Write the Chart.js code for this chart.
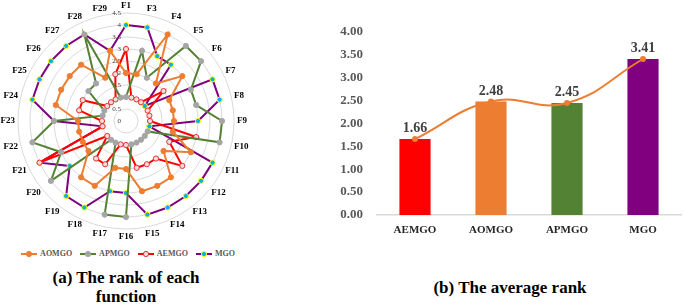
<!DOCTYPE html>
<html><head><meta charset="utf-8">
<script src="https://cdn.jsdelivr.net/npm/chart.js@4.4.0/dist/chart.umd.min.js"></script>
<style>
html,body{margin:0;padding:0;background:#fff;}
body{width:685px;height:304px;position:relative;overflow:hidden;font-family:"Liberation Serif","Times New Roman",serif;}
#radar{position:absolute;left:0;top:0;}
#bar{position:absolute;left:330px;top:0;}
.cap{position:absolute;font-weight:bold;font-size:17px;color:#000;text-align:center;line-height:19px;}
#legend{position:absolute;left:2px;top:249px;width:252px;display:flex;justify-content:center;gap:8px;font:bold 8px "Liberation Serif",serif;color:#595959;}
#legend span.it{display:flex;align-items:center;gap:3px;}
</style></head><body>
<canvas id="radar" width="252" height="246"></canvas>
<div id="legend"></div>
<canvas id="bar" width="355" height="240"></canvas>
<div class="cap" style="left:26px;top:268px;width:200px;">(a) The rank of each<br>function</div>
<div class="cap" style="left:410px;top:278px;width:200px;">(b) The average rank</div>
<script>
// ---------- data ----------
const functions = ["F1","F3","F4","F5","F6","F7","F8","F9","F10","F11","F12","F13","F14","F15","F16","F17","F18","F19","F20","F21","F22","F23","F24","F25","F26","F27","F28","F29"];
const rankAOMGO = [2,2,4,2,3,2,2,2,2,3,2,3,3,3,2,2,3,3,2,2,2,2,3,3,3,3,2,3];
const rankAPMGO = [1,3,2,4,4,3,3,4,4,1,1,1,1,1,4,4,1,1,4,3,4,3,1,1,2,2,4,1];
const rankAEMGO = [3,1,1,1,2,1,1,1,3,2,3,2,2,2,1,1,2,2,1,4,1,1,2,2,1,1,1,2];
const rankMGO   = [4,4,3,3,1,4,4,3,1,4,4,4,4,4,3,3,4,4,3,4,1,3,4,4,4,4,4,3];
const radarTicks = [0,0.5,1,1.5,2,2.5,3,3.5,4,4.5];

const algorithms = ["AEMGO","AOMGO","APMGO","MGO"];
const averageRank = [1.66,2.48,2.45,3.41];
const avgTicks = [0,0.5,1,1.5,2,2.5,3,3.5,4];

const SERIF = "'Liberation Serif','Times New Roman',serif";

const styles = [
  {label:"AOMGO", data:rankAOMGO, line:"#ED7D31", fill:"#ED7D31", stroke:"#ED7D31"},
  {label:"APMGO", data:rankAPMGO, line:"#548235", fill:"#A5A5A5", stroke:"#A5A5A5"},
  {label:"AEMGO", data:rankAEMGO, line:"#FF0000", fill:"#F2DCDB", stroke:"#E03030"},
  {label:"MGO",   data:rankMGO,   line:"#7F007F", fill:"#00B0F0", stroke:"#FFFF00"}
];

// HTML legend (line + marker)
const lg = document.getElementById('legend');
styles.forEach(s=>{
  const it = document.createElement('span'); it.className='it';
  it.innerHTML = '<svg width="16" height="8"><line x1="0" y1="4" x2="16" y2="4" stroke="'+s.line+'" stroke-width="2"/>'+
    '<circle cx="8" cy="4" r="2.6" fill="'+s.fill+'" stroke="'+s.stroke+'" stroke-width="1"/></svg>';
  const t = document.createElement('span'); t.textContent = s.label; it.appendChild(t);
  lg.appendChild(it);
});

const radarText = {
  id:'radarText',
  beforeDatasetsDraw(chart){
    const s = chart.scales.r, ctx = chart.ctx;
    ctx.save();
    ctx.font = '7px '+SERIF; ctx.fillStyle = '#404040';
    ctx.textAlign = 'right'; ctx.textBaseline = 'middle';
    radarTicks.forEach(v=>{
      const p = s.getPointPositionForValue(0, v);
      ctx.fillText(String(v), p.x - 5, p.y);
    });
    ctx.font = 'bold 9px '+SERIF; ctx.fillStyle = '#000';
    ctx.textAlign = 'center'; ctx.textBaseline = 'middle';
    functions.forEach((lab,i)=>{
      const a = s.getIndexAngle(i);
      const w = ctx.measureText(lab).width, h = 9;
      const p = s.getPointPosition(i, s.drawingArea + 3);
      ctx.fillText(lab, p.x + Math.sin(a)*w/2, p.y - Math.cos(a)*h/2);
    });
    ctx.restore();
  }
};

new Chart(document.getElementById('radar'), {
  type:'radar',
  data:{
    labels:functions,
    datasets: styles.map(s=>({
      label:s.label, data:s.data, borderColor:s.line, backgroundColor:s.line,
      borderWidth:2, fill:false, pointRadius:2.6, pointBorderWidth:1,
      pointBackgroundColor:s.fill, pointBorderColor:s.stroke, pointHoverRadius:2.6
    }))
  },
  options:{
    responsive:false, animation:false,
    layout:{padding:{top:12,left:18,right:18,bottom:16}},
    plugins:{legend:{display:false}, tooltip:{enabled:false}},
    scales:{r:{
      min:0, max:4.5,
      afterBuildTicks(scale){ scale.ticks = radarTicks.map(v=>({value:v})); },
      ticks:{display:false},
      grid:{circular:true, color:'#D9D9D9', lineWidth:1},
      angleLines:{display:false},
      pointLabels:{display:false}
    }}
  },
  plugins:[radarText]
});

// ---------- bar + line ----------
const valueLabels = {
  id:'valueLabels',
  afterDatasetsDraw(chart){
    const meta = chart.getDatasetMeta(1); const ctx = chart.ctx;
    ctx.save(); ctx.font = "bold 14px "+SERIF; ctx.fillStyle = "#404040";
    ctx.textAlign = 'center'; ctx.textBaseline = 'alphabetic';
    meta.data.forEach((el,i)=>{
      ctx.fillText(averageRank[i].toFixed(2), el.x, el.y - 7);
    });
    ctx.restore();
  }
};

new Chart(document.getElementById('bar'), {
  data:{
    labels:algorithms,
    datasets:[
      {type:'line', data:averageRank, borderColor:'#ED7D31', backgroundColor:'#ED7D31',
       borderWidth:2, tension:0.45, pointRadius:3, pointBorderWidth:0, order:0},
      {type:'bar', data:averageRank, backgroundColor:['#FF0000','#ED7D31','#548235','#800080'],
       borderWidth:0, categoryPercentage:1, barPercentage:0.41, order:1}
    ]
  },
  options:{
    responsive:false, animation:false,
    layout:{padding:{top:32,right:0,left:0,bottom:0}},
    plugins:{legend:{display:false}, tooltip:{enabled:false}},
    scales:{
      y:{min:0,max:4,
        afterBuildTicks(scale){ scale.ticks = avgTicks.map(v=>({value:v})); },
        afterFit(scale){ scale.width = 47; },
        ticks:{callback:v=>Number(v).toFixed(2), color:'#595959', padding:14,
               font:{family:SERIF,size:13,weight:'bold'}},
        grid:{display:false, drawTicks:false}, border:{display:false}},
      x:{afterFit(scale){ scale.height = 25; },
        ticks:{color:'#262626', font:{family:SERIF,size:11,weight:'bold'}, padding:9},
        grid:{display:false, drawTicks:false}, border:{color:'#D9D9D9', width:1.5}}
    }
  },
  plugins:[valueLabels]
});
</script>
</body></html>
